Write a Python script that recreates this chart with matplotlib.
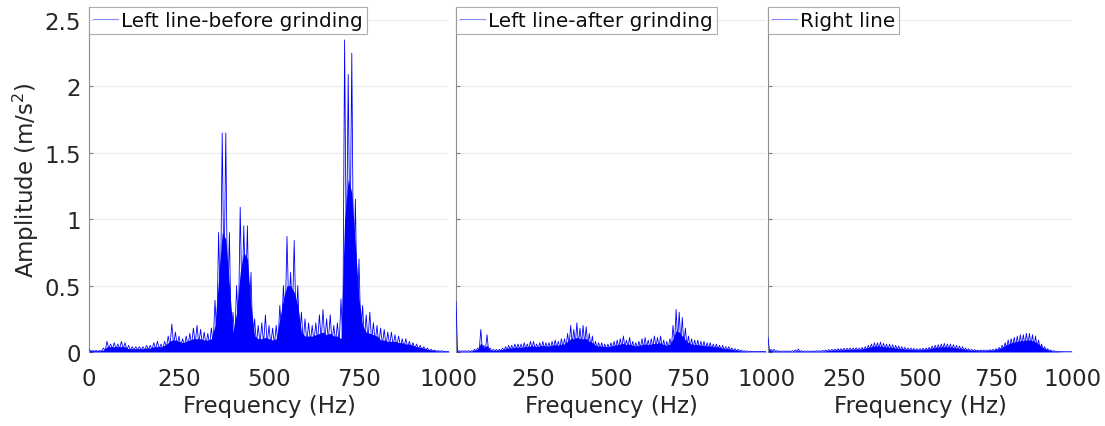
import numpy as np
import matplotlib
matplotlib.use("Agg")
import matplotlib.pyplot as plt
from matplotlib.lines import Line2D

plt.rcParams['font.family'] = ['DejaVu Sans']

# ---------------- data (10 Hz grid) ----------------
freq = list(range(0, 1001, 10))

titles = ["Left line-before grinding", "Left line-after grinding", "Right line"]

# Panel 1: spike tops
before_peak = [0.02, 0.01, 0.01, 0.01, 0.03, 0.08, 0.06, 0.07, 0.06, 0.08,
               0.07, 0.05, 0.04, 0.04, 0.04, 0.04, 0.05, 0.05, 0.07, 0.08,
               0.06, 0.08, 0.12, 0.21, 0.15, 0.12, 0.10, 0.12, 0.14, 0.18,
               0.20, 0.17, 0.15, 0.14, 0.18, 0.39, 0.90, 1.65, 1.65, 0.90,
               0.30, 0.50, 1.09, 0.95, 0.95, 0.60, 0.25, 0.20, 0.22, 0.28,
               0.20, 0.18, 0.20, 0.35, 0.50, 0.87, 0.60, 0.84, 0.50, 0.30,
               0.25, 0.22, 0.20, 0.22, 0.28, 0.32, 0.25, 0.28, 0.20, 0.22,
               0.40, 2.35, 2.09, 2.25, 1.15, 0.70, 0.35, 0.28, 0.30, 0.22,
               0.20, 0.18, 0.17, 0.15, 0.15, 0.13, 0.12, 0.10, 0.10, 0.08,
               0.07, 0.06, 0.05, 0.04, 0.03, 0.02, 0.015, 0.01, 0.01, 0.005,
               0.005]
# Panel 1: dense (solid) level
before_body = [0.01, 0.01, 0.01, 0.01, 0.015, 0.04, 0.04, 0.04, 0.04, 0.04,
               0.04, 0.025, 0.025, 0.025, 0.025, 0.025, 0.03, 0.03, 0.04, 0.04,
               0.04, 0.05, 0.07, 0.09, 0.09, 0.08, 0.07, 0.08, 0.09, 0.10,
               0.10, 0.10, 0.09, 0.09, 0.10, 0.20, 0.55, 0.90, 0.85, 0.50,
               0.15, 0.30, 0.60, 0.75, 0.70, 0.35, 0.12, 0.10, 0.10, 0.11,
               0.10, 0.09, 0.10, 0.25, 0.40, 0.50, 0.50, 0.45, 0.35, 0.15,
               0.12, 0.12, 0.12, 0.13, 0.14, 0.15, 0.13, 0.14, 0.12, 0.12,
               0.10, 1.00, 1.30, 1.20, 0.80, 0.40, 0.20, 0.15, 0.14, 0.13,
               0.12, 0.09, 0.09, 0.08, 0.08, 0.08, 0.07, 0.07, 0.06, 0.06,
               0.05, 0.04, 0.035, 0.03, 0.02, 0.015, 0.01, 0.008, 0.006, 0.004,
               0.003]

# Panel 2
after_peak = [0.38, 0.01, 0.01, 0.01, 0.01, 0.01, 0.02, 0.03, 0.17, 0.05,
              0.13, 0.03, 0.02, 0.02, 0.02, 0.03, 0.04, 0.05, 0.05, 0.06,
              0.06, 0.06, 0.07, 0.06, 0.08, 0.08, 0.06, 0.07, 0.08, 0.07,
              0.07, 0.08, 0.09, 0.08, 0.10, 0.10, 0.14, 0.20, 0.17, 0.22,
              0.18, 0.20, 0.19, 0.14, 0.12, 0.08, 0.07, 0.07, 0.06, 0.06,
              0.07, 0.08, 0.09, 0.10, 0.12, 0.09, 0.11, 0.08, 0.07, 0.08,
              0.10, 0.11, 0.09, 0.10, 0.12, 0.11, 0.12, 0.09, 0.08, 0.10,
              0.20, 0.32, 0.30, 0.26, 0.18, 0.12, 0.10, 0.09, 0.09, 0.08,
              0.08, 0.07, 0.07, 0.06, 0.06, 0.05, 0.05, 0.04, 0.04, 0.03,
              0.025, 0.02, 0.015, 0.01, 0.008, 0.006, 0.005, 0.005, 0.005, 0.005,
              0.005]
after_body = [0.01, 0.005, 0.005, 0.005, 0.005, 0.008, 0.015, 0.02, 0.07, 0.03,
              0.05, 0.015, 0.012, 0.012, 0.015, 0.02, 0.025, 0.03, 0.03, 0.035,
              0.035, 0.035, 0.04, 0.04, 0.045, 0.045, 0.04, 0.045, 0.05, 0.045,
              0.045, 0.05, 0.055, 0.05, 0.06, 0.06, 0.08, 0.10, 0.10, 0.11,
              0.10, 0.10, 0.10, 0.08, 0.07, 0.05, 0.045, 0.045, 0.04, 0.04,
              0.045, 0.05, 0.055, 0.06, 0.065, 0.055, 0.06, 0.05, 0.045, 0.05,
              0.055, 0.06, 0.055, 0.06, 0.065, 0.065, 0.07, 0.055, 0.05, 0.06,
              0.10, 0.16, 0.15, 0.12, 0.09, 0.07, 0.06, 0.055, 0.055, 0.05,
              0.05, 0.045, 0.045, 0.04, 0.04, 0.035, 0.03, 0.025, 0.025, 0.02,
              0.015, 0.012, 0.008, 0.006, 0.004, 0.003, 0.003, 0.003, 0.003, 0.003,
              0.003]

# Panel 3
right_peak = [0.11, 0.02, 0.02, 0.01, 0.008, 0.008, 0.008, 0.008, 0.01, 0.015,
              0.022, 0.01, 0.008, 0.008, 0.008, 0.008, 0.01, 0.01, 0.012, 0.015,
              0.018, 0.02, 0.022, 0.025, 0.025, 0.028, 0.028, 0.03, 0.03, 0.032,
              0.03, 0.035, 0.04, 0.05, 0.06, 0.07, 0.07, 0.075, 0.065, 0.06,
              0.06, 0.055, 0.05, 0.045, 0.04, 0.035, 0.03, 0.03, 0.028, 0.025,
              0.025, 0.028, 0.03, 0.035, 0.045, 0.05, 0.055, 0.06, 0.065, 0.06,
              0.06, 0.055, 0.05, 0.045, 0.04, 0.03, 0.025, 0.02, 0.018, 0.015,
              0.015, 0.015, 0.015, 0.018, 0.02, 0.025, 0.035, 0.05, 0.07, 0.09,
              0.10, 0.11, 0.12, 0.13, 0.13, 0.14, 0.14, 0.13, 0.12, 0.09,
              0.06, 0.04, 0.025, 0.015, 0.01, 0.006, 0.004, 0.003, 0.003, 0.003,
              0.003]
right_body = [0.02, 0.01, 0.008, 0.006, 0.004, 0.004, 0.004, 0.004, 0.005, 0.008,
              0.01, 0.006, 0.004, 0.004, 0.004, 0.005, 0.006, 0.006, 0.007, 0.009,
              0.011, 0.012, 0.014, 0.016, 0.016, 0.018, 0.018, 0.02, 0.02, 0.021,
              0.02, 0.024, 0.028, 0.034, 0.04, 0.045, 0.045, 0.045, 0.04, 0.038,
              0.036, 0.034, 0.03, 0.028, 0.025, 0.022, 0.02, 0.019, 0.018, 0.017,
              0.017, 0.019, 0.021, 0.024, 0.03, 0.034, 0.036, 0.04, 0.04, 0.038,
              0.038, 0.034, 0.03, 0.028, 0.024, 0.019, 0.016, 0.013, 0.012, 0.01,
              0.01, 0.01, 0.01, 0.012, 0.014, 0.018, 0.025, 0.035, 0.05, 0.06,
              0.07, 0.075, 0.08, 0.085, 0.085, 0.09, 0.09, 0.085, 0.075, 0.06,
              0.04, 0.026, 0.016, 0.01, 0.006, 0.004, 0.003, 0.002, 0.002, 0.002,
              0.002]

peaks = [before_peak, after_peak, right_peak]
bodies = [before_body, after_body, right_body]

# ---------------- figure ----------------
W, H = 1105, 427
fig = plt.figure(figsize=(W / 100, H / 100), dpi=100)

y0_px, ytop_px = 353, 7.7
panels_px = [(89, 449), (456, 766), (768, 1072)]
blue = (0, 0, 1)
txt = (0.15, 0.15, 0.15)

axes = []
for i, (l, r) in enumerate(panels_px):
    ax = fig.add_axes([l / W, (H - y0_px) / H, (r - l) / W, (y0_px - ytop_px) / H])
    axes.append(ax)
    f = np.asarray(freq, dtype=float)
    pk = np.asarray(peaks[i])
    bd = np.asarray(bodies[i])
    # solid dense part
    ax.fill_between(f, 0, bd, color=blue, linewidth=0, zorder=2)
    # spiky line alternating between spike tops and the dense level
    xs = np.empty(2 * len(f) - 1)
    ys = np.empty(2 * len(f) - 1)
    xs[0::2] = f
    ys[0::2] = pk
    xs[1::2] = (f[:-1] + f[1:]) / 2
    ys[1::2] = np.minimum(bd[:-1], bd[1:]) * 0.6
    ax.plot(xs, ys, color=blue, linewidth=0.6, zorder=3)

    ax.set_xlim(0, 1000)
    ax.set_ylim(0, 2.6)
    ax.set_yticks([0, 0.5, 1, 1.5, 2, 2.5])
    if i == 0:
        ax.set_xticks([0, 250, 500, 750, 1000])
        ax.set_yticklabels(["0", "0.5", "1", "1.5", "2", "2.5"])
        ax.set_ylabel("Amplitude (m/s$^2$)", fontsize=16.5, color=txt, labelpad=2)
    else:
        ax.set_xticks([250, 500, 750, 1000])
        ax.set_yticklabels([])
    ax.set_xlabel("Frequency (Hz)", fontsize=16.5, color=txt, labelpad=3)
    ax.tick_params(axis='both', labelsize=16.5, labelcolor=txt)
    ax.tick_params(axis='x', length=0, pad=11)
    ax.tick_params(axis='y', direction='in', length=3, color=(0.5, 0.5, 0.5), pad=6)
    for s in ['top', 'right', 'bottom']:
        ax.spines[s].set_visible(False)
    ax.spines['left'].set_color((0.55, 0.55, 0.55))
    ax.spines['left'].set_linewidth(0.8)
    ax.grid(axis='y', color=(0.92, 0.92, 0.92), linewidth=0.8, zorder=0)
    ax.set_axisbelow(True)

    handle = Line2D([], [], color=(0.55, 0.55, 1.0), linewidth=0.8)
    leg = ax.legend([handle], [titles[i]], loc='upper left', borderaxespad=0,
                    fontsize=14.4, frameon=True, fancybox=False, handlelength=1.25,
                    handletextpad=0.15, borderpad=0.2)
    leg.get_frame().set_edgecolor((0.6, 0.6, 0.6))
    leg.get_frame().set_linewidth(0.8)
    for t in leg.get_texts():
        t.set_color((0.05, 0.05, 0.05))

fig.savefig("out.png", dpi=100, facecolor='white')
